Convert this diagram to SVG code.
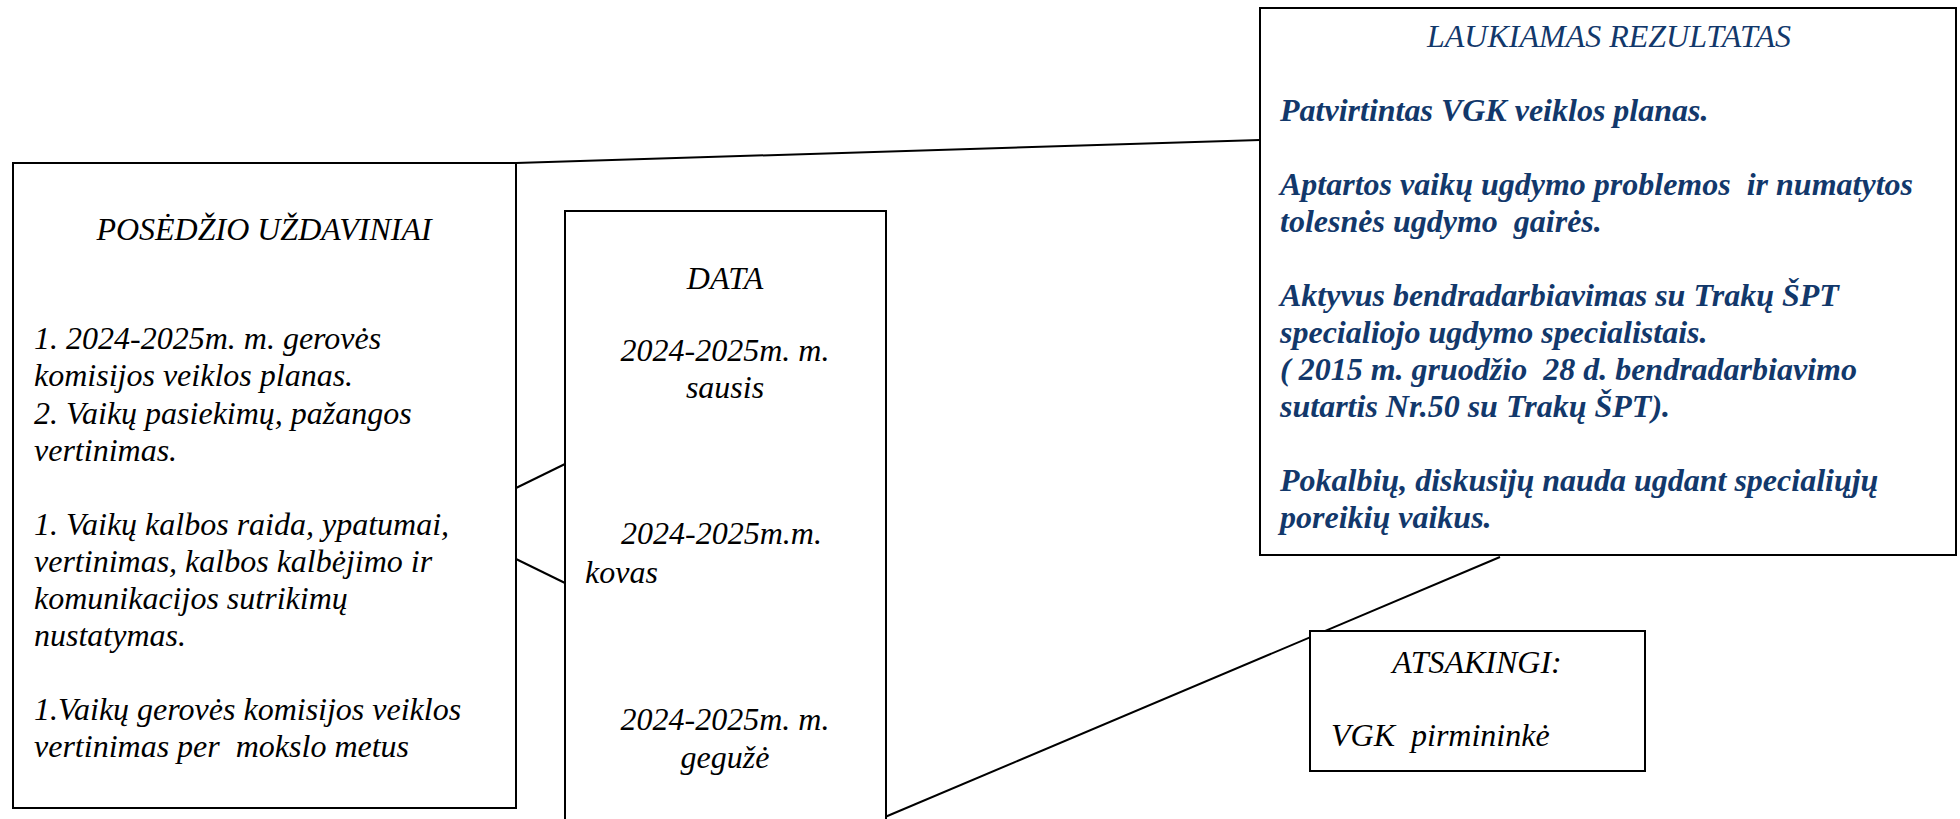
<svg xmlns="http://www.w3.org/2000/svg" width="1960" height="819" viewBox="0 0 1960 819">
<style>
.box{fill:#fff;stroke:#000;stroke-width:2}
text{white-space:pre}
.t{font-family:"Liberation Serif","Times New Roman",serif;font-style:italic;font-size:32px;fill:#000}
.b{font-family:"Liberation Serif","Times New Roman",serif;font-style:italic;font-weight:bold;font-size:32px;fill:#12386b}
.h{font-family:"Liberation Serif","Times New Roman",serif;font-style:italic;font-size:32px;fill:#12386b}
.c{text-anchor:middle}
.ln{stroke:#000;stroke-width:2;fill:none}
</style>
<rect width="1960" height="819" fill="#fff"/>
<g id="connectors">
<line class="ln" x1="516" y1="163" x2="1260" y2="140"/>
<line class="ln" x1="516" y1="488" x2="565" y2="464"/>
<line class="ln" x1="516" y1="559" x2="565" y2="583"/>
<line class="ln" x1="885" y1="817" x2="1500" y2="557"/>
</g>
<g id="uzdaviniai">
<rect class="box" x="13" y="163" width="503" height="645"/>
<text class="t c" x="264" y="240">POSĖDŽIO UŽDAVINIAI</text>
<text class="t" x="34" y="349">1. 2024-2025m. m. gerovės</text>
<text class="t" x="34" y="386">komisijos veiklos planas.</text>
<text class="t" x="34" y="424">2. Vaikų pasiekimų, pažangos</text>
<text class="t" x="34" y="461">vertinimas.</text>
<text class="t" x="34" y="535">1. Vaikų kalbos raida, ypatumai,</text>
<text class="t" x="34" y="572">vertinimas, kalbos kalbėjimo ir</text>
<text class="t" x="34" y="609">komunikacijos sutrikimų</text>
<text class="t" x="34" y="646">nustatymas.</text>
<text class="t" x="34" y="720">1.Vaikų gerovės komisijos veiklos</text>
<text class="t" x="34" y="757">vertinimas per  mokslo metus</text>
</g>
<g id="data">
<rect class="box" x="565" y="211" width="321" height="630"/>
<text class="t c" x="725" y="289">DATA</text>
<text class="t c" x="725" y="361">2024-2025m. m.</text>
<text class="t c" x="725" y="398">sausis</text>
<text class="t" x="621" y="544">2024-2025m.m.</text>
<text class="t" x="585" y="583">kovas</text>
<text class="t c" x="725" y="730">2024-2025m. m.</text>
<text class="t c" x="725" y="768">gegužė</text>
</g>
<g id="rezultatas">
<rect class="box" x="1260" y="8" width="696" height="547"/>
<text class="h c" x="1609" y="47">LAUKIAMAS REZULTATAS</text>
<text class="b" x="1280" y="121">Patvirtintas VGK veiklos planas.</text>
<text class="b" x="1280" y="195">Aptartos vaikų ugdymo problemos  ir numatytos</text>
<text class="b" x="1280" y="232">tolesnės ugdymo  gairės.</text>
<text class="b" x="1280" y="306">Aktyvus bendradarbiavimas su Trakų ŠPT</text>
<text class="b" x="1280" y="343">specialiojo ugdymo specialistais.</text>
<text class="b" x="1280" y="380">( 2015 m. gruodžio  28 d. bendradarbiavimo</text>
<text class="b" x="1280" y="417">sutartis Nr.50 su Trakų ŠPT).</text>
<text class="b" x="1280" y="491">Pokalbių, diskusijų nauda ugdant specialiųjų</text>
<text class="b" x="1280" y="528">poreikių vaikus.</text>
</g>
<g id="atsakingi">
<rect class="box" x="1310" y="631" width="335" height="140"/>
<text class="t c" x="1477" y="673">ATSAKINGI:</text>
<text class="t" x="1331" y="746">VGK  pirmininkė</text>
</g>
</svg>
